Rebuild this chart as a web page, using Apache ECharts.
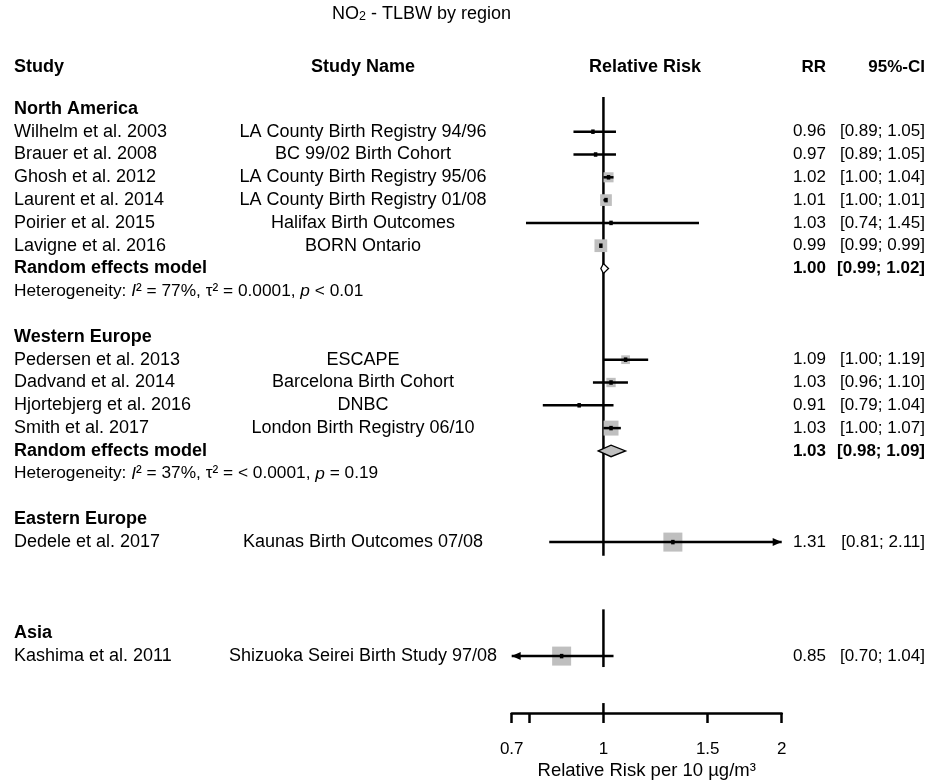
<!DOCTYPE html>
<html>
<head>
<meta charset="utf-8">
<title>NO2 - TLBW by region</title>
<script src="https://cdn.jsdelivr.net/npm/echarts@6/dist/echarts.min.js"></script>
<style>html,body{margin:0;padding:0;background:#fff}</style>
</head>
<body>
<div id="main" style="width:934px;height:782px"></div>
<script>
// data
var regions = ['North America', 'Western Europe', 'Eastern Europe', 'Asia'];
var studies = ['Wilhelm et al. 2003', 'Brauer et al. 2008', 'Ghosh et al. 2012', 'Laurent et al. 2014', 'Poirier et al. 2015', 'Lavigne et al. 2016',
  'Pedersen et al. 2013', 'Dadvand et al. 2014', 'Hjortebjerg et al. 2016', 'Smith et al. 2017', 'Dedele et al. 2017', 'Kashima et al. 2011'];
var studyNames = ['LA County Birth Registry 94/96', 'BC 99/02 Birth Cohort', 'LA County Birth Registry 95/06', 'LA County Birth Registry 01/08',
  'Halifax Birth Outcomes', 'BORN Ontario', 'ESCAPE', 'Barcelona Birth Cohort', 'DNBC', 'London Birth Registry 06/10',
  'Kaunas Birth Outcomes 07/08', 'Shizuoka Seirei Birth Study 97/08'];
var studyRegion = [0, 0, 0, 0, 0, 0, 1, 1, 1, 1, 2, 3];
var rr    = [0.96, 0.97, 1.02, 1.01, 1.03, 0.99, 1.09, 1.03, 0.91, 1.03, 1.31, 0.85];
var lower = [0.89, 0.89, 1.00, 1.00, 0.74, 0.99, 1.00, 0.96, 0.79, 1.00, 0.81, 0.698];
var upper = [1.05, 1.05, 1.04, 1.01, 1.45, 0.99, 1.19, 1.10, 1.04, 1.07, 2.11, 1.04];
var weights = [1, 1, 28, 38, 0.5, 45, 21, 24, 3, 62, 100, 100]; // relative weight (box area)
var pooledRegion = [0, 1];
var pooledRR = [1.00, 1.03];
var pooledLower = [0.99, 0.98];
var pooledUpper = [1.02, 1.09];
var hetI2 = ['77%', '37%'];
var hetTau2 = ['0.0001', '< 0.0001'];
var hetP = ['< 0.01', '= 0.19'];
var tickValues = [0.7, 0.75, 1, 1.5, 2];
var tickLabels = [0.7, 1, 1.5, 2];

// layout
var FONT = 'Liberation Sans, Arial, sans-serif';
var FS_LABEL = 18, FS_NUM = 17, FS_HET = 17.3;
var COL_STUDY = 14, COL_NAME = 363, COL_RR = 826, COL_CI = 925, COL_FOREST = 645;
var HEADER_ROW = -1.84;
var regionRow = [0, 10, 18, 23];
var refLine = [[-0.52, 19.6], [21.95, 24.48], [26.06, 26.5]];
var pooledFill = ['#ffffff', '#bfbfbf'];
var pooledHalfH = [5, 5.8];
var BOX_MAX = 19;
var LW = 2.5;
var LN_MIN = Math.log(tickValues[0]), LN_MAX = Math.log(tickValues[tickValues.length - 1]);

function f2(v) { return v.toFixed(2); }
function ci(lo, hi) { return '[' + f2(lo) + '; ' + f2(hi) + ']'; }

var texts = [];
function addText(x, row, text, align, size, bold) {
  texts.push({ x: x, row: row, text: text, align: align, size: size, bold: !!bold });
}
addText(COL_STUDY, HEADER_ROW, 'Study', 'left', FS_LABEL, true);
addText(COL_NAME, HEADER_ROW, 'Study Name', 'center', FS_LABEL, true);
addText(COL_FOREST, HEADER_ROW, 'Relative Risk', 'center', FS_LABEL, true);
addText(COL_RR, HEADER_ROW, 'RR', 'right', FS_NUM, true);
addText(COL_CI, HEADER_ROW, '95%-CI', 'right', FS_NUM, true);

regions.forEach(function (r, k) { addText(COL_STUDY, regionRow[k], r, 'left', FS_LABEL, true); });

var counters = [0, 0, 0, 0];
var studyRows = [];
studies.forEach(function (s, i) {
  var r = studyRegion[i];
  var row = regionRow[r] + 1 + counters[r]++;
  studyRows.push(row);
  addText(COL_STUDY, row, s, 'left', FS_LABEL);
  addText(COL_NAME, row, studyNames[i], 'center', FS_LABEL);
  addText(COL_RR, row, f2(rr[i]), 'right', FS_NUM);
  addText(COL_CI, row, ci(lower[i], upper[i]), 'right', FS_NUM);
});

var pooledRows = [];
pooledRegion.forEach(function (r, j) {
  var row = regionRow[r] + 1 + counters[r];
  pooledRows.push(row);
  addText(COL_STUDY, row, 'Random effects model', 'left', FS_LABEL, true);
  addText(COL_RR, row, f2(pooledRR[j]), 'right', FS_NUM, true);
  addText(COL_CI, row, ci(pooledLower[j], pooledUpper[j]), 'right', FS_NUM, true);
  addText(COL_STUDY, row + 1, 'Heterogeneity: {it|I}\u00b2 = ' + hetI2[j] + ', \u03c4\u00b2 = ' + hetTau2[j] + ', {it|p} ' + hetP[j], 'left', FS_HET);
});

var studyData = studies.map(function (s, i) {
  return [Math.log(rr[i]), studyRows[i], Math.log(lower[i]), Math.log(upper[i]), weights[i]];
});
var pooledData = pooledRR.map(function (v, j) {
  return [Math.log(v), pooledRows[j], Math.log(pooledLower[j]), Math.log(pooledUpper[j]), j];
});

function arrow(p, dir) {
  return { type: 'polygon', shape: { points: [[p[0], p[1]], [p[0] - dir * 9, p[1] - 4], [p[0] - dir * 9, p[1] + 4]] }, style: { fill: '#000' } };
}

function renderStudy(params, api) {
  var y = api.value(1);
  var lo = api.value(2), hi = api.value(3);
  var pLo = api.coord([Math.max(lo, LN_MIN), y]);
  var pHi = api.coord([Math.min(hi, LN_MAX), y]);
  var pC = api.coord([api.value(0), y]);
  var side = BOX_MAX * Math.sqrt(api.value(4) / 100);
  var children = [
    { type: 'rect', shape: { x: pC[0] - side / 2, y: pC[1] - side / 2, width: side, height: side }, style: { fill: '#bfbfbf' } },
    { type: 'line', shape: { x1: pLo[0], y1: pLo[1], x2: pHi[0], y2: pHi[1] }, style: { stroke: '#000', lineWidth: LW } }
  ];
  if (lo < LN_MIN) children.push(arrow(pLo, -1));
  if (hi > LN_MAX) children.push(arrow(pHi, 1));
  children.push({ type: 'rect', shape: { x: pC[0] - 1.75, y: pC[1] - 2.25, width: 3.5, height: 4.5 }, style: { fill: '#000' } });
  return { type: 'group', children: children };
}

function renderPooled(params, api) {
  var y = api.value(1);
  var pLo = api.coord([api.value(2), y]);
  var pHi = api.coord([api.value(3), y]);
  var pC = api.coord([api.value(0), y]);
  var h = pooledHalfH[api.value(4)];
  return {
    type: 'polygon',
    shape: { points: [[pLo[0], pC[1]], [pC[0], pC[1] - h], [pHi[0], pC[1]], [pC[0], pC[1] + h]] },
    style: { fill: pooledFill[api.value(4)], stroke: '#000', lineWidth: 1.3 }
  };
}

function renderRef(params, api) {
  var a = api.coord([api.value(0), api.value(1)]);
  var b = api.coord([api.value(0), api.value(2)]);
  return { type: 'line', shape: { x1: a[0], y1: a[1], x2: b[0], y2: b[1] }, style: { stroke: '#000', lineWidth: LW } };
}

function renderText(params, api) {
  var t = texts[params.dataIndex];
  var p = api.coord([0, api.value(1)]);
  return {
    type: 'text',
    x: t.x, y: p[1],
    style: {
      text: t.text, align: t.align, verticalAlign: 'middle',
      fontFamily: FONT, fontSize: t.size, fontWeight: t.bold ? 'bold' : 'normal', fill: '#000',
      rich: { it: { fontFamily: FONT, fontSize: t.size, fontStyle: 'italic', fill: '#000' } }
    }
  };
}

var myChart = echarts.init(document.getElementById('main'));
var option = {
  animation: false,
  backgroundColor: '#fff',
  title: {
    text: 'NO{sub|2} - TLBW by region',
    left: 327, top: 0,
    textStyle: {
      fontFamily: FONT, fontSize: FS_LABEL, fontWeight: 'normal', color: '#000',
      rich: { sub: { fontFamily: FONT, fontSize: 12.5, color: '#000', verticalAlign: 'bottom', lineHeight: 18 } }
    }
  },
  grid: [
    { left: 511.7, width: 270, top: 17.7, height: 729.6 },
    { left: 511.7, width: 270, top: 703, height: 10 }
  ],
  xAxis: [
    { gridIndex: 0, type: 'value', min: LN_MIN, max: LN_MAX, show: false },
    {
      gridIndex: 1, type: 'value', min: LN_MIN, max: LN_MAX,
      axisLine: { show: true, lineStyle: { color: '#000', width: LW } },
      axisTick: { show: true, length: 10, lineStyle: { color: '#000', width: LW }, customValues: tickValues.map(Math.log) },
      axisLabel: {
        customValues: tickLabels.map(Math.log), margin: 28, color: '#000', fontFamily: FONT, fontSize: FS_NUM,
        formatter: function (v) { return String(+Math.exp(v).toFixed(2)); }
      },
      splitLine: { show: false },
      name: 'Relative Risk per 10 \u00b5g/m\u00b3', nameLocation: 'middle', nameGap: 48,
      nameTextStyle: { color: '#000', fontFamily: FONT, fontSize: 18.5 }
    }
  ],
  yAxis: [
    { gridIndex: 0, type: 'value', min: -4, max: 28, inverse: true, show: false },
    { gridIndex: 1, type: 'value', min: 0, max: 1, show: false }
  ],
  series: [
    { type: 'custom', xAxisIndex: 0, yAxisIndex: 0, clip: false, data: refLine.map(function (s) { return [0, s[0], s[1]]; }), renderItem: renderRef, z: 1 },
    { type: 'custom', xAxisIndex: 0, yAxisIndex: 0, clip: false, data: studyData, renderItem: renderStudy, z: 2 },
    { type: 'custom', xAxisIndex: 0, yAxisIndex: 0, clip: false, data: pooledData, renderItem: renderPooled, z: 3 },
    { type: 'custom', xAxisIndex: 0, yAxisIndex: 0, clip: false, data: texts.map(function (t) { return [t.x, t.row]; }), renderItem: renderText, z: 4 }
  ]
};
myChart.setOption(option);
</script>
</body>
</html>
